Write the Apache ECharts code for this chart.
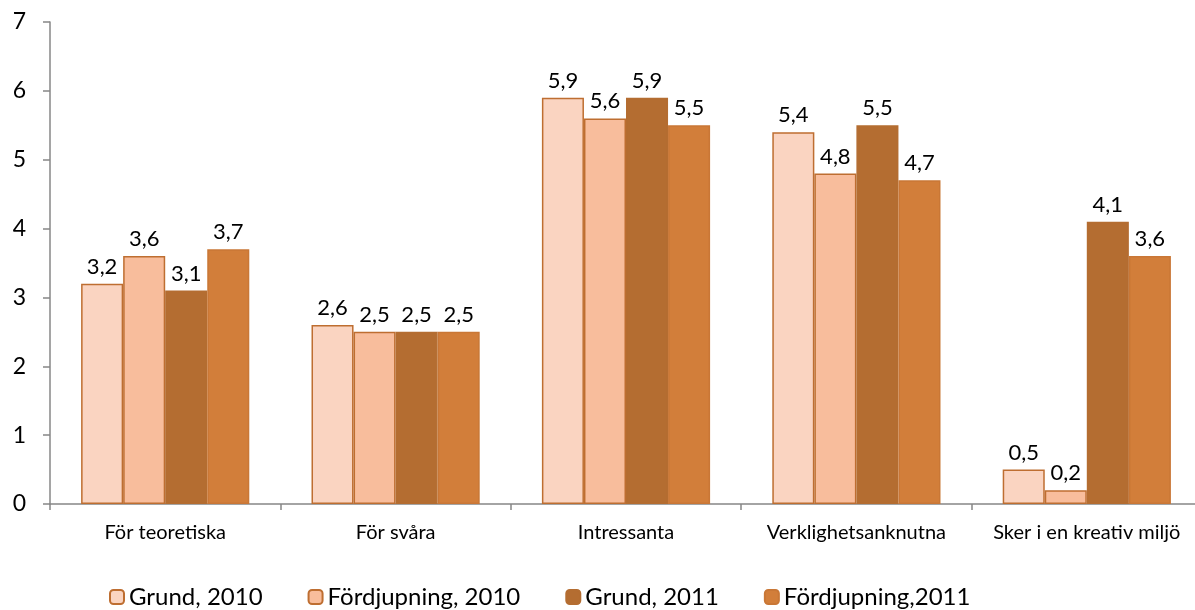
<!DOCTYPE html>
<html>
<head>
<meta charset="utf-8">
<script src="https://cdn.jsdelivr.net/npm/echarts@6/dist/echarts.min.js"></script>
<style>
  html, body { margin: 0; padding: 0; background: #fff; }
  #chart { width: 1195px; height: 610px; }
</style>
</head>
<body>
<div id="chart"></div>
<script>
var categories = ['För teoretiska', 'För svåra', 'Intressanta', 'Verklighetsanknutna', 'Sker i en kreativ miljö'];
var seriesNames = ['Grund, 2010', 'Fördjupning, 2010', 'Grund, 2011', 'Fördjupning,2011'];
var grund2010 = [3.2, 2.6, 5.9, 5.4, 0.5];
var fordj2010 = [3.6, 2.5, 5.6, 4.8, 0.2];
var grund2011 = [3.1, 2.5, 5.9, 5.5, 4.1];
var fordj2011 = [3.7, 2.5, 5.5, 4.7, 3.6];
var yTicks = [0, 1, 2, 3, 4, 5, 6, 7];

var fills = ['#FAD4C1', '#F8BD9C', '#B46D31', '#D27E3A'];
var borders = ['#BE6E31', '#BE6E31', '#B46D31', '#C97736'];
var fontFam = 'Lato, "Open Sans", sans-serif';

function makeSeries(name, data, i) {
  return {
    name: name,
    type: 'bar',
    data: data,
    barGap: '0%',
    barCategoryGap: '27%',
    itemStyle: { color: fills[i], borderColor: borders[i], borderWidth: 1.5 },
    label: {
      show: true,
      position: 'top',
      distance: 6,
      color: '#000',
      fontSize: 22,
      fontFamily: fontFam,
      formatter: function (p) { return String(p.value).replace('.', ','); }
    }
  };
}

var chart = echarts.init(document.getElementById('chart'));
var option = {
  animation: false,
  grid: { left: 50, top: 22, width: 1152, height: 482, outerBoundsMode: 'none', containLabel: false },
  legend: {
    data: seriesNames,
    left: 104,
    top: 580,
    itemWidth: 14,
    itemHeight: 14,
    itemGap: 45,
    textStyle: { fontSize: 24, fontFamily: fontFam, color: '#000' }
  },
  xAxis: {
    type: 'category',
    data: categories,
    axisLine: { lineStyle: { color: '#878787', width: 1.5 } },
    axisTick: { show: true, length: 6, lineStyle: { color: '#878787', width: 1.5 } },
    axisLabel: { color: '#000', fontSize: 20, fontFamily: fontFam, margin: 19, interval: 0, hideOverlap: false }
  },
  yAxis: {
    type: 'value',
    min: yTicks[0],
    max: yTicks[yTicks.length - 1],
    interval: 1,
    splitLine: { show: false },
    axisLine: { show: true, lineStyle: { color: '#878787', width: 1.5 } },
    axisTick: { show: true, length: 7, lineStyle: { color: '#878787', width: 1.5 } },
    axisLabel: { color: '#000', fontSize: 23, fontFamily: fontFam, margin: 24 }
  },
  series: [
    makeSeries(seriesNames[0], grund2010, 0),
    makeSeries(seriesNames[1], fordj2010, 1),
    makeSeries(seriesNames[2], grund2011, 2),
    makeSeries(seriesNames[3], fordj2011, 3)
  ]
};
chart.setOption(option);
</script>
</body>
</html>
